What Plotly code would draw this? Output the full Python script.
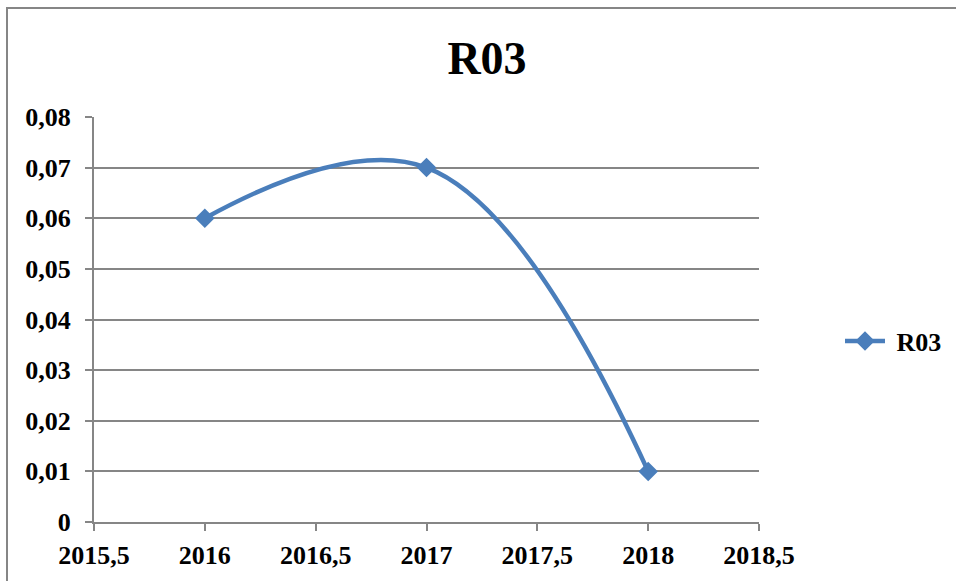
import plotly.graph_objects as go

years = [2016, 2017, 2018]
values = [0.06, 0.07, 0.01]
series_name = "R03"
title_text = "R03"
x_tick_vals = [2015.5, 2016, 2016.5, 2017, 2017.5, 2018, 2018.5]
x_tick_text = ["2015,5", "2016", "2016,5", "2017", "2017,5", "2018", "2018,5"]
y_tick_vals = [0, 0.01, 0.02, 0.03, 0.04, 0.05, 0.06, 0.07, 0.08]
y_tick_text = ["0", "0,01", "0,02", "0,03", "0,04", "0,05", "0,06", "0,07", "0,08"]

FONT = "Liberation Serif, Times New Roman, serif"
BLUE = "#4A7EBB"
GRAY = "#868686"

W, H = 956, 581
L, R, T, B = 94, 759, 117, 522
pw, ph = R - L, B - T

fig = go.Figure()
fig.add_trace(go.Scatter(
    x=years, y=values, name="\u00a0" + series_name,
    mode="lines+markers",
    line=dict(color=BLUE, width=4.5, shape="spline", smoothing=1.15),
    marker=dict(symbol="diamond", size=15, color=BLUE),
))

tickfont = dict(family=FONT, size=26, color="black", weight="bold")

fig.update_layout(
    width=W, height=H,
    margin=dict(l=L, r=W - R, t=T, b=H - B, pad=0, autoexpand=False),
    paper_bgcolor="white", plot_bgcolor="white",
    font=dict(family=FONT, size=26, color="black"),
    title=dict(text="<b>%s</b>" % title_text, x=487 / W, xanchor="center",
               y=1 - 58 / H, yanchor="middle",
               font=dict(family=FONT, size=46, color="black")),
    showlegend=True,
    legend=dict(x=(840 - L) / pw, y=(B - 341) / ph, xanchor="left", yanchor="middle",
                font=tickfont,
                bgcolor="rgba(0,0,0,0)", itemwidth=40, tracegroupgap=0),
    xaxis=dict(range=[2015.5, 2018.5], tickmode="array",
               tickvals=x_tick_vals, ticktext=x_tick_text,
               showgrid=False, zeroline=False, automargin=False,
               showline=True, linecolor=GRAY, linewidth=2,
               ticks="outside", ticklen=7, tickwidth=2, tickcolor=GRAY,
               ticklabelstandoff=2,
               tickfont=tickfont),
    yaxis=dict(range=[0, 0.08], tickmode="array",
               tickvals=y_tick_vals, ticktext=y_tick_text,
               showgrid=True, gridcolor=GRAY, gridwidth=1.5,
               zeroline=False, automargin=False,
               showline=True, linecolor=GRAY, linewidth=2,
               ticks="outside", ticklen=7, tickwidth=2, tickcolor=GRAY,
               ticklabelstandoff=9,
               tickfont=tickfont),
)

# Outer chart border (extends beyond right/bottom edges of the view)
fig.add_shape(type="rect", xref="paper", yref="paper",
              x0=(7 - L) / pw, x1=(W + 20 - L) / pw,
              y0=(B - (H + 20)) / ph, y1=(B - 8) / ph,
              line=dict(color=GRAY, width=2), fillcolor="rgba(0,0,0,0)", layer="below")

fig.write_html("out.html", config={"displayModeBar": False},
               post_script="document.body.style.margin='0px';")
